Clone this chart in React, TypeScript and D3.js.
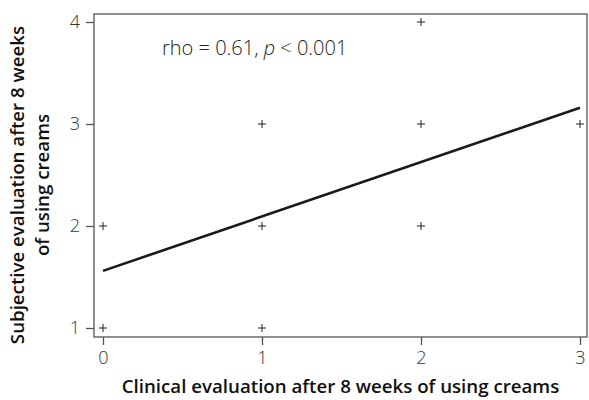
import React, { useRef, useEffect } from 'react';
import * as d3 from 'd3';

// clinical score (x) and subjective score (y) pairs
const clinical = [0, 0, 1, 1, 1, 2, 2, 2, 3];
const subjective = [1, 2, 1, 2, 3, 2, 3, 4, 3];
const xTicks = [0, 1, 2, 3];
const yTicks = [1, 2, 3, 4];
// fitted line ends
const fitX = [0, 3];
const fitY = [1.56, 3.16];

const FONT = '"Open Sans", "Noto Sans", sans-serif';

export default function App() {
	const svgWidth = 589;
	const svgHeight = 400;
	const ref = useRef<SVGSVGElement>(null);

	useEffect(() => {
		if (!ref.current) return;
		const svg = d3.select(ref.current);
		svg.selectAll('*').remove();

		const frame = { left: 94, top: 14, right: 587, bottom: 337 };
		const x = d3.scaleLinear().domain([0, 3]).range([103, 580]);
		const y = d3.scaleLinear().domain([1, 4]).range([328, 22]);

		// frame
		svg.append('rect')
			.attr('x', frame.left)
			.attr('y', frame.top)
			.attr('width', frame.right - frame.left)
			.attr('height', frame.bottom - frame.top)
			.attr('fill', 'none')
			.attr('stroke', '#555')
			.attr('stroke-width', 1.3);

		const xAxis = svg.append('g')
			.attr('transform', `translate(0,${frame.bottom})`)
			.call(d3.axisBottom(x).tickValues(xTicks).tickFormat(d3.format('d')).tickSize(8).tickPadding(6));
		const yAxis = svg.append('g')
			.attr('transform', `translate(${frame.left},0)`)
			.call(d3.axisLeft(y).tickValues(yTicks).tickFormat(d3.format('d')).tickSize(8).tickPadding(6));

		[xAxis, yAxis].forEach((ax) => {
			ax.select('.domain').remove();
			ax.selectAll('line').attr('stroke', '#555').attr('stroke-width', 1.3);
			ax.selectAll('text')
				.style('font-family', FONT)
				.style('font-size', '18px')
				.style('font-weight', 300)
				.attr('fill', '#333');
		});

		// points as plus signs
		svg.append('g')
			.selectAll('path')
			.data(clinical.map((c, i) => [c, subjective[i]]))
			.enter()
			.append('path')
			.attr('transform', (d) => `translate(${x(d[0])},${y(d[1])})`)
			.attr('d', 'M-4,0H4M0,-4V4')
			.attr('stroke', '#222')
			.attr('stroke-width', 1)
			.attr('fill', 'none');

		// regression line
		const line = d3.line<number>()
			.x((d) => x(d))
			.y((d, i) => y(fitY[i]));
		svg.append('path')
			.datum(fitX)
			.attr('d', line)
			.attr('fill', 'none')
			.attr('stroke', '#1a1a1a')
			.attr('stroke-width', 2.6);

		// annotation
		const note = svg.append('text')
			.attr('x', 162)
			.attr('y', 55)
			.style('font-family', FONT)
			.style('font-size', '20px')
			.style('font-weight', 300)
			.attr('fill', '#222');
		note.append('tspan').text('rho = 0.61, ');
		note.append('tspan').style('font-style', 'italic').text('p');
		note.append('tspan').text(' < 0.001');

		// axis titles
		svg.append('text')
			.attr('x', (frame.left + frame.right) / 2)
			.attr('y', 393)
			.attr('text-anchor', 'middle')
			.style('font-family', FONT)
			.style('font-size', '18.7px')
			.style('font-weight', 600)
			.attr('fill', '#111')
			.text('Clinical evaluation after 8 weeks of using creams');

		const yTitle = svg.append('text')
			.attr('transform', `translate(0,185) rotate(-90)`)
			.attr('text-anchor', 'middle')
			.style('font-family', FONT)
			.style('font-size', '18.7px')
			.style('font-weight', 600)
			.attr('fill', '#111');
		yTitle.append('tspan').attr('x', 0).attr('y', 24).text('Subjective evaluation after 8 weeks');
		yTitle.append('tspan').attr('x', 0).attr('y', 49).text('of using creams');
	}, []);

	return (
		<svg
			ref={ref}
			width={svgWidth}
			height={svgHeight}
			style={{ position: 'absolute', left: 0, top: 0, background: '#fff' }}
		/>
	);
}
